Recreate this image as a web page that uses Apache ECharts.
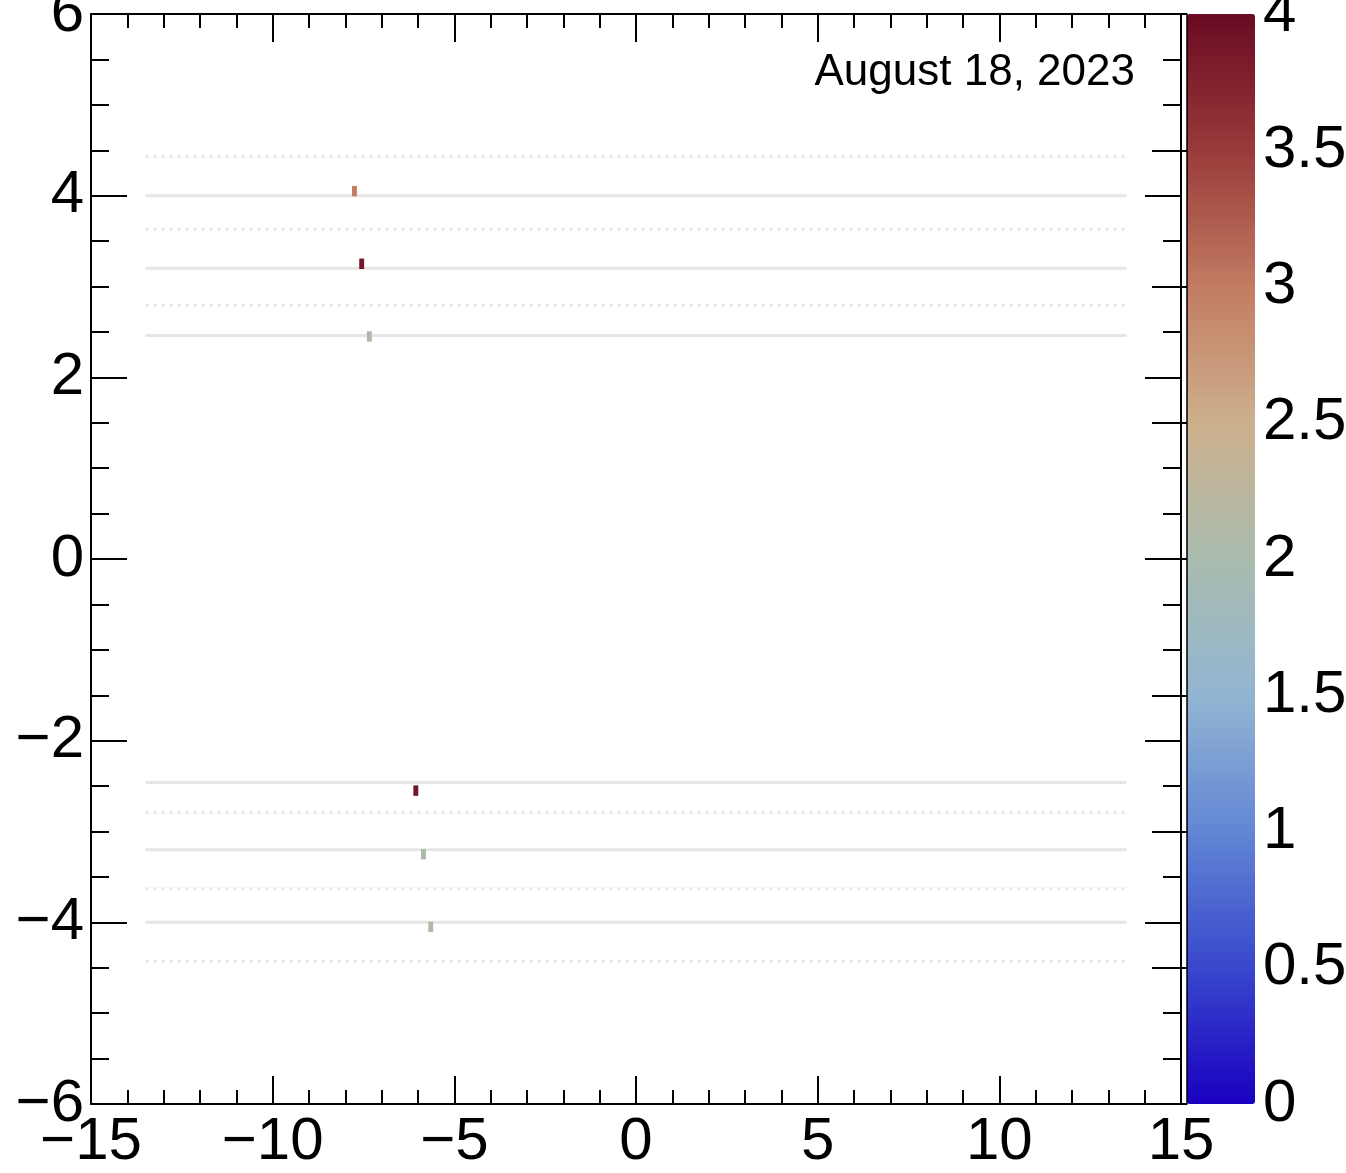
<!DOCTYPE html>
<html>
<head>
<meta charset="utf-8">
<script src="https://cdn.jsdelivr.net/npm/echarts@6/dist/echarts.min.js"></script>
<style>
html,body{margin:0;padding:0;background:#fff;}
#c{width:1346px;height:1173px;}
</style>
</head>
<body>
<div id="c"></div>
<script>
// ---- data ----
const hitX = [-7.75, -7.55, -7.34, -6.06, -5.85, -5.65];
const hitY = [4.05, 3.25, 2.45, -2.55, -3.25, -4.05];
const hitValue = [3.0, 3.9, 2.07, 3.9, 2.07, 2.1];
const solidLayerY = [4.0, 3.2, 2.46, -2.46, -3.2, -4.0];
const dottedLayerY = [4.43, 3.63, 2.79, -2.79, -3.63, -4.43];
const layerXRange = [-13.5, 13.5];
const colorStops = ['#1a00c0', '#3848cc', '#6286d4', '#92b5d2', '#a9bcae', '#cdb08c', '#c27c62', '#993a3a', '#6a0a22'];
const dateLabel = 'August 18, 2023';

const FONT = 'Liberation Sans, Arial, Helvetica, sans-serif';
const minusFmt = v => (v < 0 ? '\u2212' + Math.abs(v) : String(v));

const chart = echarts.init(document.getElementById('c'), null, {renderer: 'canvas'});

const lineSeries = [];
solidLayerY.forEach(y => {
  lineSeries.push({
    type: 'line', xAxisIndex: 0, yAxisIndex: 0, symbol: 'none', silent: true, z: 2,
    data: [[layerXRange[0], y], [layerXRange[1], y]],
    lineStyle: {color: '#e6e6e6', width: 3}
  });
});
dottedLayerY.forEach(y => {
  lineSeries.push({
    type: 'line', xAxisIndex: 0, yAxisIndex: 0, symbol: 'none', silent: true, z: 2,
    data: [[layerXRange[0], y], [layerXRange[1], y]],
    lineStyle: {color: '#e6e6e6', width: 3, type: [3, 5]}
  });
});

const hitData = hitX.map((x, i) => [x, hitY[i], hitValue[i]]);

const axisCommon = {
  axisLine: {show: true, onZero: false, lineStyle: {color: '#000', width: 2}},
  splitLine: {show: false},
};

const option = {
  animation: false,
  backgroundColor: '#fff',
  grid: [
    {left: 91, top: 14, width: 1090, height: 1090, containLabel: false, outerBoundsMode: 'none'},
    {left: 1187, top: 14, width: 68, height: 1090, containLabel: false, outerBoundsMode: 'none'}
  ],
  xAxis: [
    Object.assign({}, axisCommon, {
      type: 'value', gridIndex: 0, position: 'bottom', min: -15, max: 15, interval: 5,
      axisTick: {show: true, inside: true, length: 28, lineStyle: {color: '#000', width: 2}},
      minorTick: {show: true, splitNumber: 5, length: 14, lineStyle: {color: '#000', width: 2}},
      axisLabel: {show: true, margin: 8, fontSize: 60, color: '#000', fontFamily: FONT, formatter: minusFmt, showMinLabel: true, showMaxLabel: true, hideOverlap: false}
    }),
    Object.assign({}, axisCommon, {
      type: 'value', gridIndex: 0, position: 'top', min: -15, max: 15, interval: 5,
      axisTick: {show: true, inside: true, length: 28, lineStyle: {color: '#000', width: 2}},
      minorTick: {show: true, splitNumber: 5, length: 14, lineStyle: {color: '#000', width: 2}},
      axisLabel: {show: false}
    }),
    {type: 'value', gridIndex: 1, min: 0, max: 1, show: false}
  ],
  yAxis: [
    Object.assign({}, axisCommon, {
      type: 'value', gridIndex: 0, position: 'left', min: -6, max: 6, interval: 2,
      axisTick: {show: true, inside: true, length: 36, lineStyle: {color: '#000', width: 2}},
      minorTick: {show: true, splitNumber: 4, length: 18, lineStyle: {color: '#000', width: 2}},
      axisLabel: {show: true, margin: 7, fontSize: 60, color: '#000', fontFamily: FONT, formatter: minusFmt, showMinLabel: true, showMaxLabel: true, hideOverlap: false}
    }),
    Object.assign({}, axisCommon, {
      type: 'value', gridIndex: 0, position: 'right', min: -6, max: 6, interval: 2,
      axisTick: {show: true, inside: true, length: 36, lineStyle: {color: '#000', width: 2}},
      minorTick: {show: true, splitNumber: 4, length: 18, lineStyle: {color: '#000', width: 2}},
      axisLabel: {show: false}
    }),
    {
      type: 'value', gridIndex: 1, position: 'right', min: 0, max: 4, interval: 0.5, z: 10,
      axisLine: {show: true, lineStyle: {color: '#000', width: 1.5}},
      splitLine: {show: false},
      axisTick: {show: true, inside: true, length: 35, lineStyle: {color: '#000', width: 2}},
      axisLabel: {show: true, margin: 8, fontSize: 60, color: '#000', fontFamily: FONT, showMinLabel: true, showMaxLabel: true, hideOverlap: false}
    }
  ],
  visualMap: {
    type: 'continuous',
    seriesIndex: lineSeries.length,
    dimension: 2,
    min: 0, max: 4,
    orient: 'vertical',
    left: 1187, top: 14,
    itemWidth: 68, itemHeight: 1090,
    padding: 0,
    calculable: false,
    hoverLink: false,
    text: null,
    inRange: {color: colorStops}
  },
  graphic: [
    {type: 'text', z: 20, style: {text: dateLabel, x: 1135, y: 73, align: 'right', verticalAlign: 'middle', fontSize: 44, fontFamily: FONT, fill: '#000'}}
  ],
  series: lineSeries.concat([
    {
      type: 'custom', xAxisIndex: 0, yAxisIndex: 0, z: 5,
      data: hitData,
      encode: {x: 0, y: 1},
      renderItem: function (params, api) {
        const c = api.coord([api.value(0), api.value(1)]);
        const s = api.size([0.135, 0.115]);
        return {
          type: 'rect',
          shape: {x: c[0] - s[0] / 2, y: c[1] - s[1] / 2, width: s[0], height: s[1]},
          style: {fill: api.visual('color')}
        };
      }
    }
  ])
};
chart.setOption(option);
</script>
</body>
</html>
